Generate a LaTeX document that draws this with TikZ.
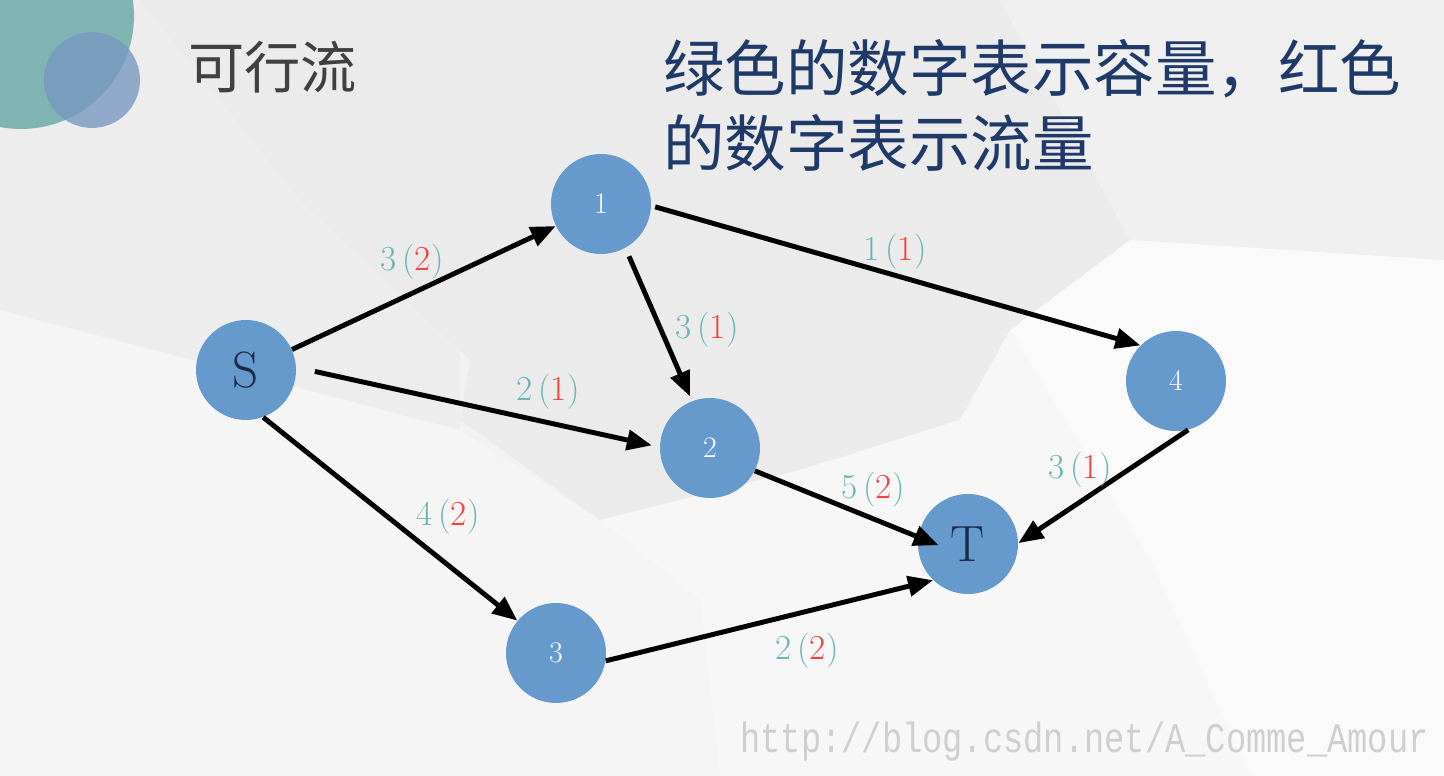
\documentclass[tikz,border=0pt]{standalone}
\usepackage{fontspec}
\usetikzlibrary{arrows.meta,positioning}
\newfontfamily\cjkfont{Noto Sans CJK SC}
\newfontfamily\wmfont{Liberation Mono}[FakeStretch=0.8]
\definecolor{tealdisc}{HTML}{80B4B2}
\definecolor{bluedisc}{HTML}{7897BF}
\definecolor{vertexblue}{HTML}{6699CC}
\definecolor{capgreen}{HTML}{6DB4B4}
\definecolor{flowred}{HTML}{F5423F}
\definecolor{titlegray}{HTML}{404040}
\definecolor{notenavy}{HTML}{1F3A68}
\definecolor{letternavy}{HTML}{1A2A4A}
\newcommand{\capflow}[2]{{\color{capgreen}#1\,(}{\color{flowred}#2}{\color{capgreen})}}

\begin{document}
\begin{tikzpicture}[x=0.02cm, y=-0.02cm,
  vertex/.style={circle, fill=vertexblue, minimum size=2cm, inner sep=0pt},
  digit/.style={vertex, text=white, font=\fontsize{17}{17}\selectfont},
  letter/.style={vertex, text=letternavy, font=\fontsize{29}{29}\selectfont},
  link/.style={-{Triangle[length=0.5cm,width=0.4cm]}, line width=2.8pt},
  lab/.style={font=\fontsize{20}{20}\selectfont, inner sep=0pt},
  note/.style={font=\cjkfont\fontsize{35}{35}\selectfont, text=notenavy, inner sep=0pt}]
\useasboundingbox (0,0) rectangle (1444,776);
\fill[black!5] (0,0) rectangle (1444,776);
\fill[black!7] (0,0) -- (460,0) -- (460,430) -- (0,310) -- cycle;
\fill[black!8] (140,0) -- (1000,0) -- (1130,240) -- (1010,330) -- (960,420) -- (800,470) -- (600,520) -- (460,420) -- (470,360) -- (300,200) -- cycle;
\fill[black!6] (1000,0) -- (1444,0) -- (1444,260) -- (1130,240) -- cycle;
\fill[blue!2!black!2] (1130,240) -- (1444,260) -- (1444,776) -- (1250,776) -- (1150,560) -- (1010,330) -- cycle;
\fill[black!4] (0,310) -- (460,430) -- (600,520) -- (700,600) -- (720,776) -- (0,776) -- cycle;
\fill[black!3] (600,520) -- (800,470) -- (960,420) -- (1010,330) -- (1150,560) -- (1250,776) -- (720,776) -- (700,600) -- cycle;
\fill[tealdisc] (21,16) circle[radius=2.26cm];
\fill[bluedisc, opacity=0.78] (92,80) circle[radius=0.96cm];

\node[font=\cjkfont\fontsize{32}{32}\selectfont, text=titlegray, anchor=base west, inner sep=0pt] (title) at (188,89) {可行流};
\node[note, anchor=base west] (note1) at (663,92) {绿色的数字表示容量，红色};
\node[note, anchor=base west] (note2) at ([yshift=-1.5cm]note1.base west) {的数字表示流量};

\node[letter] (S) at (246,370) {S};
\node[digit] (1) at (601,204) {1};
\node[digit] (2) at (710,448) {2};
\node[digit] (3) at (556,653) {3};
\node[digit] (4) at (1176,381) {4};
\node[letter] (T) at (968,544) {T};

\draw[link] (S.24) -- (1.206);
\draw[link, shorten <=0.38cm, shorten >=0.16cm] (S.3) -- (2.179);
\draw[link] (S.290) -- (3.140);
\draw[link, shorten <=0.18cm, shorten >=0.1cm] (1.299) -- (2.111);
\draw[link, shorten <=0.08cm] (1.358) -- (4.135);
\draw[link, shorten >=-0.44cm] (2.333) -- (T.172);
\draw[link] (4.284) -- (T.1);
\draw[link] (3.351) -- (T.226);

\node[lab] (s1) at (412,262) {\capflow{3}{2}};
\node[lab] (s2) at (548,392) {\capflow{2}{1}};
\node[lab] (s3) at (448,517) {\capflow{4}{2}};
\node[lab] (a12) at (707,330) {\capflow{3}{1}};
\node[lab] (a14) at (895,252) {\capflow{1}{1}};
\node[lab] (a2t) at (873,490) {\capflow{5}{2}};
\node[lab] (a4t) at (1080,470) {\capflow{3}{1}};
\node[lab] (a3t) at (807,651) {\capflow{2}{2}};

\node[font=\wmfont\fontsize{24}{24}\selectfont, text=black!19, anchor=west, inner sep=0pt] (url) at (740,742) {http://blog.csdn.net/A\_Comme\_Amour};
\end{tikzpicture}
\end{document}
